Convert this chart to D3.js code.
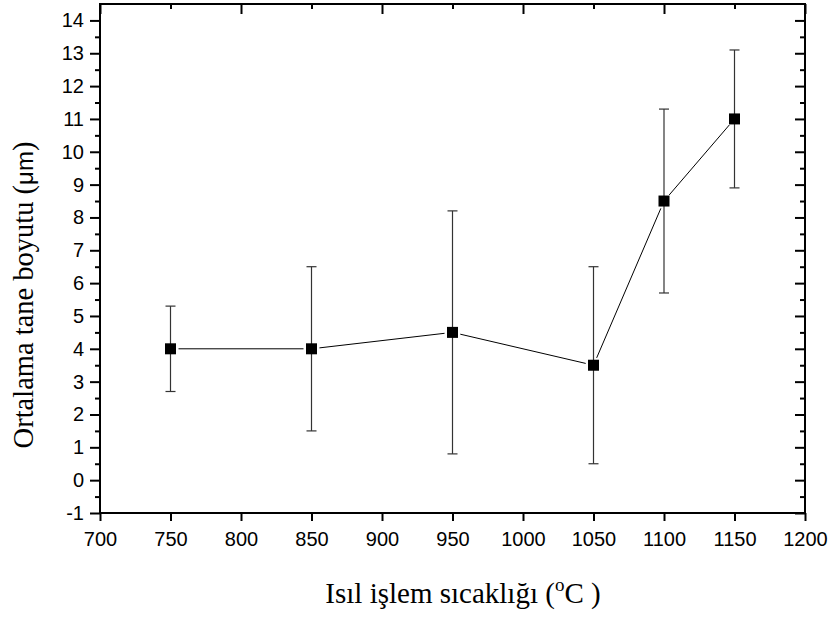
<!DOCTYPE html>
<html lang="tr">
<head>
<meta charset="UTF-8">
<title>Ortalama tane boyutu</title>
<script src="https://d3js.org/d3.v7.min.js"></script>
<style>
  body { margin: 0; background: #fff; }
</style>
</head>
<body>
<script>

    // data
    var temps = [750, 850, 950, 1050, 1100, 1150];
    var sizes = [4, 4, 4.5, 3.5, 8.5, 11];
    var errLow = [2.7, 1.5, 0.8, 0.5, 5.7, 8.9];
    var errHigh = [5.3, 6.5, 8.2, 6.5, 11.3, 13.1];
    var xTicks = [700, 750, 800, 850, 900, 950, 1000, 1050, 1100, 1150, 1200];
    var yTicks = [-1, 0, 1, 2, 3, 4, 5, 6, 7, 8, 9, 10, 11, 12, 13, 14];

    var W = 829, H = 617;
    var pLeft = 100, pRight = 805, pTop = 4, pBottom = 513;

    var svg = d3.select('body').append('svg')
        .attr('width', W)
        .attr('height', H);

    var x = d3.scaleLinear().domain([700, 1200]).range([pLeft, pRight]);
    var y = d3.scaleLinear().domain([-1, 14.5]).range([pBottom, pTop]);

    var plain = function (d) { return String(d); };   // keeps "-1" with a hyphen

    var yMinor = d3.range(-0.5, 14.5, 1);
    var xMinorTop = xTicks.filter(function (d) { return d % 100 !== 0; });
    var xMajorTop = xTicks.filter(function (d) { return d % 100 === 0; });

    // left axis: outward ticks with labels
    svg.append('g').attr('transform', 'translate(' + pLeft + ',0)')
        .call(d3.axisLeft(y).tickValues(yTicks).tickSize(10).tickPadding(6).tickFormat(plain));
    svg.append('g').attr('transform', 'translate(' + pLeft + ',0)')
        .call(d3.axisLeft(y).tickValues(yMinor).tickSize(5).tickFormat(''));

    // right axis: inward ticks
    svg.append('g').attr('transform', 'translate(' + pRight + ',0)')
        .call(d3.axisLeft(y).tickValues(yTicks).tickSize(10).tickFormat(''));
    svg.append('g').attr('transform', 'translate(' + pRight + ',0)')
        .call(d3.axisLeft(y).tickValues(yMinor).tickSize(5).tickFormat(''));

    // bottom axis: outward ticks with labels
    svg.append('g').attr('transform', 'translate(0,' + pBottom + ')')
        .call(d3.axisBottom(x).tickValues(xTicks).tickSize(8).tickPadding(11).tickFormat(plain));

    // top axis: inward ticks
    svg.append('g').attr('transform', 'translate(0,' + pTop + ')')
        .call(d3.axisBottom(x).tickValues(xMajorTop).tickSize(10).tickFormat(''));
    svg.append('g').attr('transform', 'translate(0,' + pTop + ')')
        .call(d3.axisBottom(x).tickValues(xMinorTop).tickSize(5).tickFormat(''));

    svg.selectAll('.domain').remove();
    svg.selectAll('.tick line').attr('stroke', '#000').attr('stroke-width', 2);
    svg.selectAll('.tick text')
        .attr('font-family', 'Liberation Sans, Arial, sans-serif')
        .attr('font-size', '20px')
        .attr('fill', '#000');

    // frame
    svg.append('rect')
        .attr('x', pLeft).attr('y', pTop)
        .attr('width', pRight - pLeft).attr('height', pBottom - pTop)
        .attr('fill', 'none')
        .attr('stroke', '#000')
        .attr('stroke-width', 2);

    var pts = temps.map(function (t, i) {
        return { x: x(t), y: y(sizes[i]), lo: y(errLow[i]), hi: y(errHigh[i]) };
    });

    // connecting line, with a small gap at each marker
    var gap = 8;
    for (var i = 0; i < pts.length - 1; i++) {
        var a = pts[i], b = pts[i + 1];
        var dx = b.x - a.x, dy = b.y - a.y;
        var len = Math.sqrt(dx * dx + dy * dy);
        var ux = dx / len, uy = dy / len;
        svg.append('line')
            .attr('x1', a.x + ux * gap).attr('y1', a.y + uy * gap)
            .attr('x2', b.x - ux * gap).attr('y2', b.y - uy * gap)
            .attr('stroke', '#000')
            .attr('stroke-width', 1);
    }

    // error bars
    var eb = svg.append('g').attr('stroke', '#333').attr('stroke-width', 1.2);
    eb.selectAll('.v').data(pts).enter().append('line')
        .attr('x1', function (d) { return d.x; }).attr('x2', function (d) { return d.x; })
        .attr('y1', function (d) { return d.lo; }).attr('y2', function (d) { return d.hi; });
    eb.selectAll('.capHi').data(pts).enter().append('line')
        .attr('x1', function (d) { return d.x - 5; }).attr('x2', function (d) { return d.x + 5; })
        .attr('y1', function (d) { return d.hi; }).attr('y2', function (d) { return d.hi; });
    eb.selectAll('.capLo').data(pts).enter().append('line')
        .attr('x1', function (d) { return d.x - 5; }).attr('x2', function (d) { return d.x + 5; })
        .attr('y1', function (d) { return d.lo; }).attr('y2', function (d) { return d.lo; });

    // square markers
    svg.selectAll('.pt').data(pts).enter().append('rect')
        .attr('x', function (d) { return d.x - 5.5; })
        .attr('y', function (d) { return d.y - 5.5; })
        .attr('width', 11).attr('height', 11)
        .attr('fill', '#000');

    // axis titles
    var xt = svg.append('text')
        .attr('x', 463).attr('y', 603)
        .attr('text-anchor', 'middle')
        .attr('font-family', 'Liberation Serif, Times New Roman, serif')
        .attr('font-size', '29px')
        .attr('fill', '#000');
    xt.append('tspan').text('Isıl işlem sıcaklığı (');
    xt.append('tspan').attr('font-size', '19px').attr('dy', -12).text('o');
    xt.append('tspan').attr('dy', 12).text('C )');

    var yt = svg.append('text')
        .attr('transform', 'translate(33,295) rotate(-90)')
        .attr('text-anchor', 'middle')
        .attr('font-family', 'Liberation Serif, Times New Roman, serif')
        .attr('font-size', '28.5px')
        .attr('fill', '#000');
    yt.append('tspan').text('Ortalama tane boyutu (');
    yt.append('tspan').attr('font-family', 'Liberation Sans, Arial, sans-serif').attr('font-size', '24px').text('μm');
    yt.append('tspan').text(')');

</script>
</body>
</html>
